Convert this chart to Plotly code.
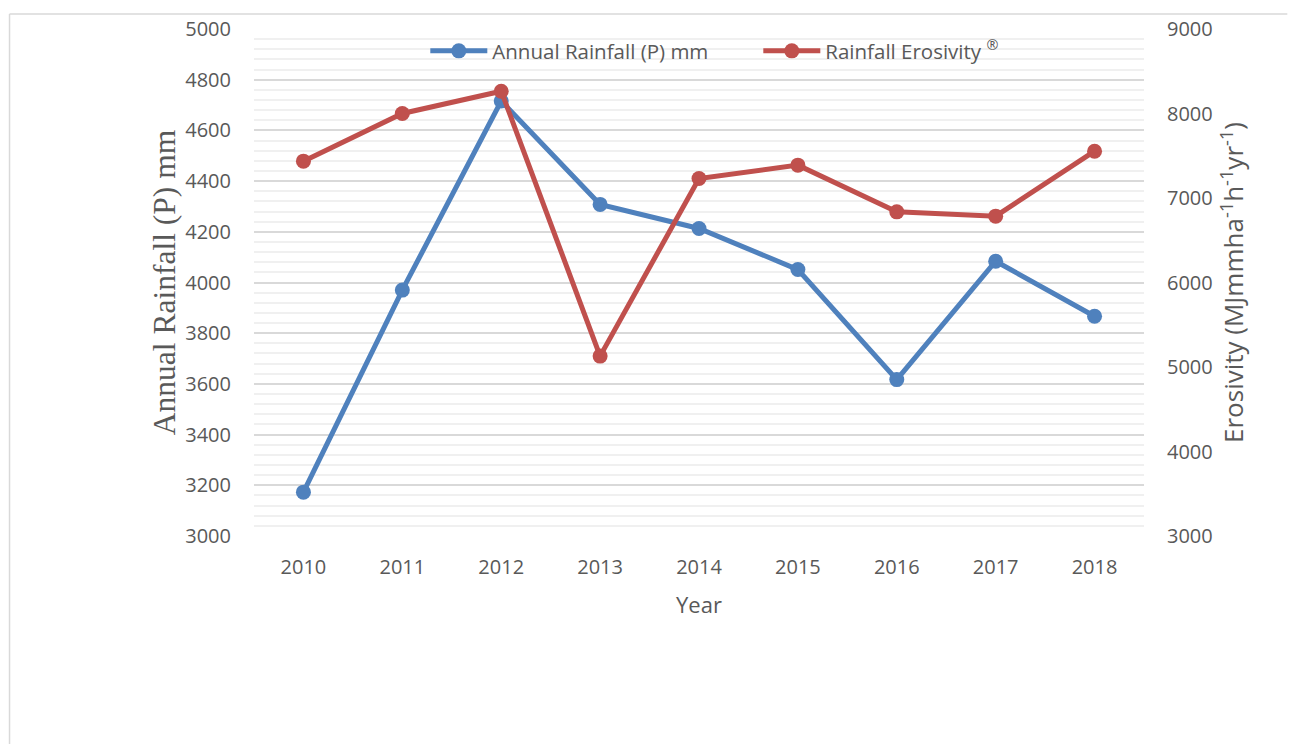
import plotly.graph_objects as go

years = ["2010", "2011", "2012", "2013", "2014", "2015", "2016", "2017", "2018"]
rainfall_mm = [3173, 3970, 4716, 4308, 4213, 4051, 3617, 4084, 3867]
erosivity = [7436, 8000, 8264, 5129, 7231, 7389, 6836, 6785, 7554]

BLUE = "#4F81BD"
RED = "#C0504D"
TXT = "#595959"
FONT = "'Open Sans', Lato, sans-serif"
# page has an 8px body margin; figure is placed at (8, 8)
W, H = 1280, 736
L, T = 245.5, 21
R = W - (1144.5 - 8)
B = H - (536 - 8)
pw = W - L - R
ph = H - T - B

fig = go.Figure()
fig.add_trace(go.Scatter(
    x=years, y=rainfall_mm, name="Annual Rainfall (P) mm", mode="lines+markers",
    line=dict(color=BLUE, width=5), marker=dict(color=BLUE, size=15), yaxis="y"))
fig.add_trace(go.Scatter(
    x=years, y=erosivity, name="Rainfall Erosivity <sup>®</sup>", mode="lines+markers",
    line=dict(color=RED, width=5), marker=dict(color=RED, size=15), yaxis="y2"))

# outer chart frame (left and top edges visible in the reference)
fx0 = (0.75 - L) / pw
fy1 = 1 - (6 - T) / ph
fig.add_shape(type="line", xref="paper", yref="paper",
              x0=fx0, x1=fx0, y0=fy1, y1=1 - (H - T) / ph,
              line=dict(color="#d9d9d9", width=1.5), layer="below")
fig.add_shape(type="line", xref="paper", yref="paper",
              x0=fx0, x1=(W - L) / pw, y0=fy1, y1=fy1,
              line=dict(color="#d9d9d9", width=1.5), layer="below")

fig.update_layout(
    width=W, height=H,
    margin=dict(l=L, r=R, t=T, b=B, autoexpand=False),
    paper_bgcolor="white", plot_bgcolor="white",
    font=dict(family=FONT, size=20, color=TXT),
    showlegend=True,
    legend=dict(orientation="h", x=(430 - 8 - 5 - L) / pw, xanchor="left",
                y=1 - 22 / ph, yanchor="middle",
                bgcolor="rgba(0,0,0,0)", font=dict(family=FONT, size=20.5, color=TXT),
                itemwidth=57, entrywidthmode="pixels", entrywidth=261),
    xaxis=dict(
        type="category", range=[-0.5, 8.5], showgrid=False, zeroline=False,
        showline=False, ticks="", tickfont=dict(size=20, color=TXT),
        ticklabelstandoff=17,
        title=dict(text="Year", font=dict(size=22, color=TXT), standoff=18)),
    yaxis=dict(
        range=[3000, 5000], dtick=200, tick0=3000, showgrid=True, gridcolor="#d9d9d9",
        gridwidth=1.5, zeroline=False, showline=False, ticks="",
        tickfont=dict(size=20, color=TXT), ticklabelstandoff=22,
        minor=dict(dtick=40, tick0=3000, showgrid=True, gridcolor="#f0f0f0", gridwidth=1.5),
        title=dict(text="Annual Rainfall (P) mm",
                   font=dict(family="'Liberation Serif', 'Times New Roman', serif", size=31.5, color=TXT),
                   standoff=0)),
    yaxis2=dict(
        range=[3000, 9000], dtick=1000, tick0=3000, overlaying="y", side="right",
        showgrid=False, zeroline=False, showline=False, ticks="",
        tickfont=dict(size=20, color=TXT), ticklabelstandoff=22,
        title=dict(text="Erosivity (MJmmha<sup>-1</sup>h<sup>-1</sup>yr<sup>-1</sup>)",
                   font=dict(size=26, color=TXT), standoff=13)),
)

fig.write_html("out.html")
